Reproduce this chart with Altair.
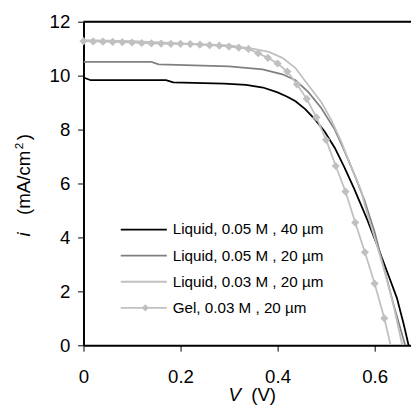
import altair as alt
import pandas as pd

# ---------------- data ----------------
v_liq05_40 = [0, 0.015, 0.17, 0.185, 0.29, 0.335, 0.37, 0.40, 0.42, 0.437, 0.457, 0.477,
              0.497, 0.518, 0.538, 0.558, 0.575, 0.585, 0.606, 0.626, 0.646, 0.66, 0.67]
i_liq05_40 = [9.93, 9.83, 9.83, 9.75, 9.70, 9.66, 9.56, 9.38, 9.22, 9.05, 8.76, 8.38,
              7.93, 7.32, 6.59, 5.80, 5.08, 4.65, 3.68, 2.72, 1.75, 0.78, 0.0]

v_liq05_20 = [0, 0.14, 0.155, 0.30, 0.369, 0.41, 0.437, 0.463, 0.49, 0.518, 0.538,
              0.558, 0.579, 0.60, 0.621, 0.64, 0.663]
i_liq05_20 = [10.51, 10.51, 10.42, 10.34, 10.23, 10.05, 9.83, 9.40, 8.80, 8.00, 7.20,
              6.35, 5.38, 4.20, 2.75, 1.45, 0.0]

v_liq03_20 = [0, 0.10, 0.20, 0.30, 0.348, 0.382, 0.41, 0.437, 0.463, 0.49, 0.511,
              0.531, 0.551, 0.572, 0.582, 0.60, 0.621, 0.64, 0.657]
i_liq03_20 = [11.32, 11.28, 11.20, 11.12, 11.0, 10.88, 10.66, 10.28, 9.65, 9.02, 8.35,
              7.56, 6.65, 5.75, 5.05, 4.00, 2.72, 1.40, 0.0]

v_gel = [0, 0.02, 0.04, 0.06, 0.08, 0.10, 0.12, 0.14, 0.16, 0.18, 0.20, 0.22, 0.24,
         0.26, 0.28, 0.30, 0.32, 0.34, 0.36, 0.38, 0.40, 0.42, 0.44, 0.46, 0.48, 0.50,
         0.52, 0.54, 0.56, 0.58, 0.60, 0.62, 0.633]
i_gel = [11.28, 11.27, 11.26, 11.25, 11.24, 11.23, 11.21, 11.20, 11.19, 11.18, 11.18,
         11.17, 11.15, 11.13, 11.11, 11.08, 11.04, 10.99, 10.83, 10.66, 10.45, 10.15,
         9.68, 9.14, 8.45, 7.62, 6.65, 5.70, 4.55, 3.45, 2.29, 1.00, 0.0]
gel_marker = [True] * 32 + [False]

series_labels = ["Liquid, 0.05 M , 40 µm", "Liquid, 0.05 M , 20 µm",
                 "Liquid, 0.03 M , 20 µm", "Gel, 0.03 M , 20 µm"]
series_colors = ["#000000", "#808080", "#c0c0c0", "#c0c0c0"]

x_ticks = [0, 0.2, 0.4, 0.6]
y_ticks = [0, 2, 4, 6, 8, 10, 12]

# ---------------- chart ----------------
FONT = "Liberation Sans"
FS = 19
W, H = 334, 330
xs = alt.Scale(domain=[0, 0.675], nice=False, zero=False)
ys = alt.Scale(domain=[0, 12], nice=False)

xaxis = alt.Axis(values=x_ticks, format="~g", title=None, grid=False, domainColor="black",
                 domainWidth=2, tickColor="black", tickSize=6, tickWidth=1,
                 labelFlush=False, labelOverlap=False,
                 labelFont=FONT, labelFontSize=FS, labelColor="black", labelPadding=17)
yaxis = alt.Axis(values=y_ticks, title=None, grid=False, domainColor="black",
                 domainWidth=2, tickColor="black", tickSize=6, tickWidth=1,
                 labelFlush=False, labelOverlap=False,
                 labelFont=FONT, labelFontSize=FS, labelColor="black", labelPadding=8)

all_series = [(v_liq05_40, i_liq05_40), (v_liq05_20, i_liq05_20),
              (v_liq03_20, i_liq03_20), (v_gel, i_gel)]

layers = []
for k, (vv, ii) in enumerate(all_series):
    df = pd.DataFrame({"V": vv, "i": ii})
    layers.append(alt.Chart(df).mark_line(color=series_colors[k], strokeWidth=1.8,
                                          clip=True).encode(
        x=alt.X("V:Q", scale=xs, axis=xaxis),
        y=alt.Y("i:Q", scale=ys, axis=yaxis)))

gel_df = pd.DataFrame({"V": v_gel, "i": i_gel, "m": gel_marker})
layers.append(alt.Chart(gel_df).transform_filter("datum.m").mark_point(
    shape="diamond", filled=True, size=70, color="#c0c0c0", opacity=1).encode(
    x=alt.X("V:Q", scale=xs, axis=xaxis), y=alt.Y("i:Q", scale=ys, axis=yaxis)))

# top frame line
layers.append(alt.Chart(pd.DataFrame({"i": [12]})).mark_rule(color="black", strokeWidth=2)
              .encode(y=alt.Y("i:Q", scale=ys, axis=yaxis)))

# manual legend (pixel positions)
LEG_X1, LEG_X2, LEG_XM, LEG_XT, LEG_Y0, LEG_DY = 38, 85, 63, 91, 212, 26.6
one = pd.DataFrame({"k": [0]})
for r, (lab, col) in enumerate(zip(series_labels, series_colors)):
    yy = LEG_Y0 + LEG_DY * r
    layers.append(alt.Chart(one).mark_rule(strokeWidth=1.8, color=col).encode(
        x=alt.value(LEG_X1), x2=alt.value(LEG_X2), y=alt.value(yy)))
    if r == 3:
        layers.append(alt.Chart(one).mark_point(
            shape="diamond", filled=True, size=55, color=col, opacity=1).encode(
            x=alt.value(LEG_XM), y=alt.value(yy)))
    layers.append(alt.Chart(pd.DataFrame({"t": [lab]})).mark_text(
        font=FONT, fontSize=15.5, align="left", baseline="middle", color="black").encode(
        x=alt.value(LEG_XT), y=alt.value(yy), text="t:N"))

# axis titles with italic symbols / superscript
def txt(s, x, y, angle=0, fs=FS, **kw):
    return alt.Chart(pd.DataFrame({"t": [s]})).mark_text(
        font=FONT, fontSize=fs, color="black", **kw).encode(
        x=alt.value(x), y=alt.value(y), angle=alt.value(angle), text="t:N")

layers.append(txt("V", 148, 387, align="left", baseline="alphabetic", fontStyle="italic"))
layers.append(txt("(V)", 171, 387, align="left", baseline="alphabetic"))
layers.append(txt("i", -55, 219, angle=270, align="left", baseline="alphabetic",
                  fontStyle="italic"))
layers.append(txt("(mA/cm", -55, 197, angle=270, align="left", baseline="alphabetic"))
layers.append(txt("2", -62, 130, angle=270, fs=12, align="left", baseline="alphabetic"))
layers.append(txt(")", -55, 121, angle=270, align="left", baseline="alphabetic"))

chart = alt.layer(*layers).properties(
    width=W, height=H,
    autosize=alt.AutoSizeParams(type="none"),
    padding={"left": 77, "top": 10, "right": 0, "bottom": 62},
).configure_view(stroke=None).configure(background="white")

chart.save("out.html", embed_options={"renderer": "svg", "actions": False})
